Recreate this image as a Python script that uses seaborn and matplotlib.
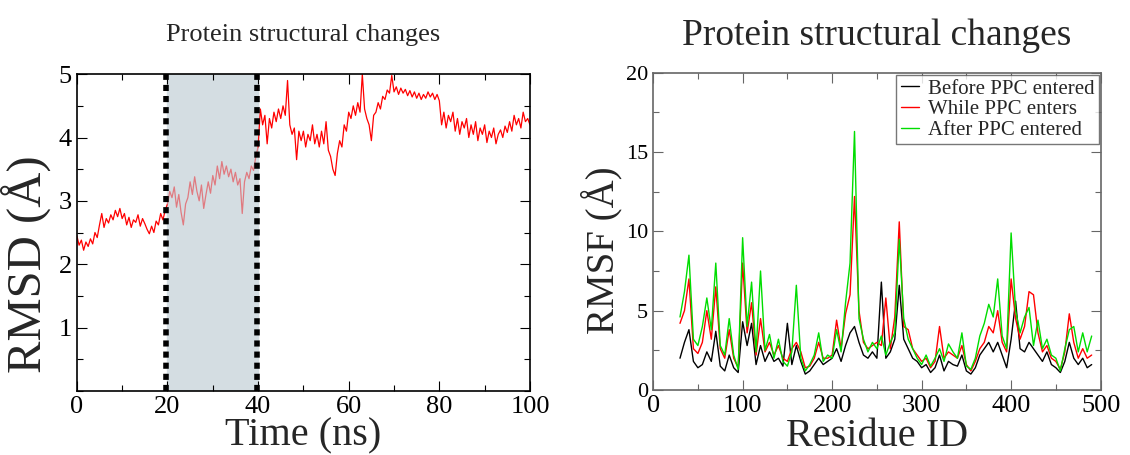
import numpy as np
import pandas as pd
import matplotlib
matplotlib.use('Agg')
import matplotlib.pyplot as plt
from matplotlib.ticker import MultipleLocator
import seaborn as sns

# RMSD (A) sampled every 0.5 ns from 0 to 100 ns
time_ns = np.linspace(0, 100, 201)
rmsd = [
    2.45, 2.30, 2.38, 2.22, 2.35, 2.28, 2.40, 2.32, 2.50, 2.42, 2.62, 2.80, 2.58, 2.72, 2.65, 2.78, 2.70, 2.85, 2.75, 2.88,
    2.72, 2.80, 2.62, 2.74, 2.58, 2.70, 2.66, 2.78, 2.60, 2.72, 2.64, 2.55, 2.48, 2.60, 2.50, 2.68, 2.62, 2.80, 2.70, 2.85,
    2.95, 3.15, 3.05, 3.22, 2.90, 3.10, 2.82, 2.62, 2.95, 3.05, 3.30, 3.10, 3.38, 3.15, 3.00, 3.25, 2.88, 3.10, 3.30, 3.12,
    3.40, 3.25, 3.55, 3.35, 3.62, 3.42, 3.55, 3.38, 3.50, 3.30, 3.45, 3.25, 3.35, 2.80, 3.30, 3.45, 3.35, 3.55, 3.48, 3.70,
    3.85, 4.45, 4.20, 4.35, 3.90, 4.30, 4.15, 4.40, 4.25, 4.45, 4.30, 4.50, 4.35, 4.90, 4.20, 4.05, 4.15, 3.65, 4.10, 3.95,
    4.10, 3.85, 4.05, 3.95, 4.20, 3.90, 4.05, 3.85, 4.10, 3.90, 4.25, 3.80, 3.70, 3.50, 3.40, 3.75, 3.95, 3.85, 4.20, 4.10,
    4.40, 4.30, 4.50, 4.35, 4.55, 4.40, 5.00, 4.45, 4.30, 4.20, 3.95, 4.35, 4.40, 4.55, 4.45, 4.65, 4.60, 4.75, 4.70, 4.98,
    4.72, 4.80, 4.68, 4.78, 4.70, 4.76, 4.66, 4.74, 4.64, 4.72, 4.62, 4.70, 4.60, 4.68, 4.62, 4.72, 4.64, 4.70, 4.60, 4.68,
    4.58, 4.20, 4.40, 4.15, 4.35, 4.25, 4.40, 4.10, 4.30, 4.05, 4.25, 4.15, 4.30, 4.00, 4.20, 4.05, 4.25, 3.95, 4.15, 4.05,
    4.20, 3.92, 4.10, 4.00, 4.15, 3.90, 4.05, 4.12, 4.00, 4.18, 4.08, 4.25, 4.10, 4.35, 4.20, 4.30, 4.15, 4.40, 4.25, 4.30,
    4.20,
]

# RMSF (A) per residue, residues 30..490 every 5
residue = np.arange(30, 495, 5)
rmsf_before = [
    2.0, 3.0, 3.8, 1.8, 1.4, 1.6, 2.4, 1.8, 3.7, 1.5,
    1.2, 2.2, 1.4, 1.1, 4.3, 2.8, 4.2, 1.6, 2.8, 1.8,
    2.4, 1.8, 2.0, 1.5, 4.2, 1.6, 2.8, 1.8, 1.0, 1.2,
    1.6, 2.0, 1.6, 1.8, 2.0, 2.6, 1.8, 2.8, 3.6, 4.0,
    3.0, 2.2, 2.0, 2.4, 2.0, 6.8, 2.0, 2.4, 3.2, 6.6,
    3.2, 2.6, 2.0, 1.8, 1.4, 1.6, 1.1, 1.4, 2.2, 1.2,
    1.8, 1.6, 1.5, 2.2, 1.2, 1.0, 1.4, 2.2, 2.6, 3.0,
    2.4, 3.0, 2.2, 1.4, 3.2, 5.6, 2.6, 2.4, 3.0, 2.6,
    2.2, 1.8, 2.4, 1.6, 1.4, 1.1, 1.8, 3.0, 2.0, 1.6,
    2.0, 1.4, 1.6,
]
rmsf_while = [
    4.2, 5.0, 7.0, 2.6, 2.3, 3.0, 5.0, 3.2, 6.5, 2.6,
    2.0, 3.8, 2.0, 1.4, 8.0, 3.6, 5.5, 2.2, 4.5, 2.4,
    3.0, 2.2, 2.8, 2.0, 1.8, 2.6, 3.0, 2.4, 1.4, 1.5,
    2.0, 3.0, 2.0, 2.0, 2.2, 4.4, 2.6, 4.8, 6.0, 12.2,
    5.0, 3.0, 2.6, 2.8, 3.0, 2.8, 5.8, 2.6, 4.6, 10.6,
    4.0, 3.8, 2.6, 2.2, 1.8, 2.0, 1.4, 1.8, 4.0, 2.0,
    2.4, 2.2, 2.0, 2.8, 1.6, 1.2, 1.8, 2.6, 3.0, 4.0,
    3.6, 5.0, 3.0, 2.4, 7.0, 4.5, 3.2, 4.0, 6.2, 6.0,
    3.6, 2.4, 2.8, 2.0, 1.8, 1.3, 2.4, 4.8, 3.0, 2.0,
    2.6, 2.0, 2.2,
]
rmsf_after = [
    4.6, 6.2, 8.5, 3.2, 2.8, 4.0, 5.8, 3.8, 8.0, 2.8,
    2.2, 4.5, 2.2, 1.3, 9.6, 4.0, 6.8, 2.4, 7.5, 2.5,
    3.5, 2.0, 3.2, 1.8, 1.5, 2.4, 6.6, 2.0, 1.2, 1.6,
    2.2, 3.6, 1.8, 2.2, 2.0, 3.8, 2.4, 5.5, 8.0, 16.3,
    4.5, 3.2, 2.4, 3.0, 2.6, 3.4, 2.2, 3.0, 3.6, 9.5,
    4.5, 3.2, 2.6, 2.0, 1.6, 2.2, 1.5, 2.0, 2.6, 1.8,
    2.9, 2.4, 2.0, 3.6, 1.5, 1.3, 2.0, 3.4, 4.2, 5.4,
    4.6, 7.0, 3.4, 2.6, 9.9, 5.0, 3.6, 4.6, 5.2, 2.8,
    4.4, 2.6, 3.2, 2.2, 2.0, 1.2, 2.6, 3.8, 4.0, 2.4,
    3.6, 2.4, 3.4,
]
labels = ['Before PPC entered', 'While PPC enters', 'After PPC entered']
colors = ['black', 'red', '#00dd00']

sns.set_style('ticks')
plt.rcParams['font.family'] = ['Liberation Serif', 'DejaVu Serif']

fig = plt.figure(figsize=(11.3, 4.55), dpi=100)
ax1 = fig.add_axes([0.068, 0.141, 0.401, 0.696])
ax2 = fig.add_axes([0.578, 0.143, 0.396, 0.697])

# left: RMSD
df = pd.DataFrame({'t': time_ns, 'rmsd': rmsd})
ax1.axvspan(20, 40, color='#d4dde2', zorder=0)
sns.lineplot(data=df.iloc[:41], x='t', y='rmsd', color='red', lw=0.9, ax=ax1, estimator=None)
sns.lineplot(data=df.iloc[40:81], x='t', y='rmsd', color='#e07a80', lw=0.9, ax=ax1, estimator=None)
sns.lineplot(data=df.iloc[80:], x='t', y='rmsd', color='red', lw=0.9, ax=ax1, estimator=None)
for xv in [19.6, 39.8]:
    ax1.axvline(xv, color='black', lw=4, ls=(0, (1.1, 0.9)), zorder=3)
ax1.set_xlim(0, 100)
ax1.set_ylim(0, 5)
ax1.xaxis.set_major_locator(MultipleLocator(20))
ax1.xaxis.set_minor_locator(MultipleLocator(10))
ax1.set_yticks([1, 2, 3, 4, 5])
ax1.yaxis.set_minor_locator(MultipleLocator(0.5))
ax1.set_xlabel('Time (ns)', fontsize=29, labelpad=0)
ax1.set_ylabel('RMSD (Å)', fontsize=35)
ax1.yaxis.set_label_coords(-0.058, 0.40)
ax1.set_title('Protein structural changes', fontsize=19, pad=24)

# right: RMSF
for vals, lab, col in zip([rmsf_before, rmsf_while, rmsf_after], labels, colors):
    sns.lineplot(x=residue, y=vals, color=col, lw=1.0, ax=ax2, label=lab, estimator=None)
ax2.set_xlim(0, 500)
ax2.set_ylim(0, 20)
ax2.xaxis.set_major_locator(MultipleLocator(100))
ax2.xaxis.set_minor_locator(MultipleLocator(50))
ax2.yaxis.set_major_locator(MultipleLocator(5))
ax2.yaxis.set_minor_locator(MultipleLocator(2.5))
ax2.set_xlabel('Residue ID', fontsize=29, labelpad=1)
ax2.set_ylabel('RMSF (Å)', fontsize=28)
ax2.yaxis.set_label_coords(-0.068, 0.44)
ax2.set_title('Protein structural changes', fontsize=27, pad=20)
leg = ax2.legend(loc='upper right', fontsize=15, frameon=True, fancybox=False,
                 handlelength=0.9, handletextpad=0.4, labelspacing=0.05,
                 borderpad=0.2, borderaxespad=0.1)
leg.get_frame().set_edgecolor('#555555')
leg.get_frame().set_linewidth(1.0)

for ax, col in [(ax1, 'black'), (ax2, '#666666')]:
    for sp in ax.spines.values():
        sp.set_visible(True)
        sp.set_color(col)
        sp.set_linewidth(1.2)
    ax.tick_params(which='both', direction='in', top=True, right=True, colors=col, labelcolor='black')
    ax.tick_params(which='major', length=7, width=0.8)
    ax.tick_params(which='minor', length=4, width=0.8)
ax1.tick_params(axis='both', labelsize=19)
ax2.tick_params(axis='x', labelsize=19)
ax2.tick_params(axis='y', labelsize=16)

fig.savefig('out.png', dpi=100)
